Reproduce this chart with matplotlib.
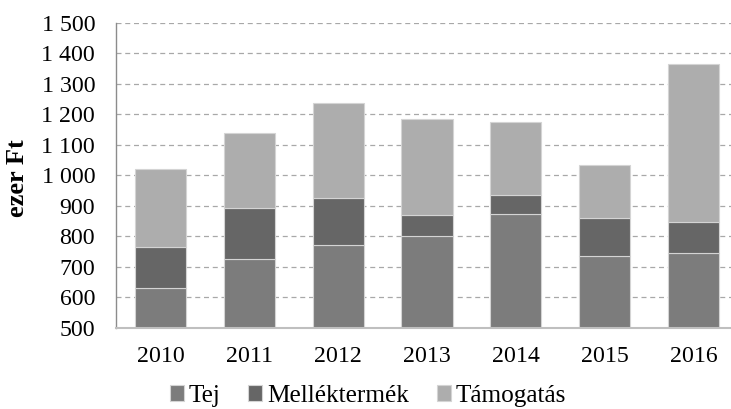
import matplotlib
matplotlib.use("Agg")
import matplotlib.pyplot as plt
from matplotlib.ticker import FuncFormatter, MultipleLocator
import numpy as np

years = ["2010", "2011", "2012", "2013", "2014", "2015", "2016"]
tej = [631, 725, 772, 800, 874, 735, 746]
mellek_top = [765, 893, 925, 868, 934, 859, 846]
total = [1020, 1139, 1238, 1186, 1176, 1034, 1364]

base = 500
tej_h = [t - base for t in tej]
mell_h = [m - t for m, t in zip(mellek_top, tej)]
tam_h = [tt - m for tt, m in zip(total, mellek_top)]

plt.rcParams['font.family'] = ['Liberation Serif', 'DejaVu Serif']
fs = 17.2
fs_leg = 18.2

fig = plt.figure(figsize=(7.31, 4.09), dpi=100)
W, H = 731, 409
left, right, top, bottom = 116, 738, 23, 327.5
ax = fig.add_axes([left / W, 1 - bottom / H, (right - left) / W, (bottom - top) / H])

x = np.arange(len(years))
w = 0.574
ec = '#d4d4d4'
ax.bar(x, tej_h, w, bottom=base, color='#7c7c7c', edgecolor=ec, linewidth=0.8, label='Tej', zorder=3)
ax.bar(x, mell_h, w, bottom=tej, color='#666666', edgecolor=ec, linewidth=0.8, label='Melléktermék', zorder=3)
ax.bar(x, tam_h, w, bottom=mellek_top, color='#adadad', edgecolor=ec, linewidth=0.8, label='Támogatás', zorder=3)

ax.set_xlim(-0.5, 6.5)
ax.set_ylim(500, 1500)
ax.yaxis.set_major_locator(MultipleLocator(100))
ax.yaxis.set_major_formatter(FuncFormatter(lambda v, p: f"{int(v):,}".replace(",", " ")))
ax.set_xticks(x)
ax.set_xticklabels(years)
ax.tick_params(axis='both', length=0, labelsize=fs, colors='black')
ax.tick_params(axis='y', pad=15)
ax.tick_params(axis='x', pad=13)

ax.grid(axis='y', color='#a8a8a8', linestyle=(0, (4, 3)), linewidth=0.9, zorder=0)
for s in ['top', 'right']:
    ax.spines[s].set_visible(False)
ax.spines['left'].set_color('#8c8c8c')
ax.spines['left'].set_linewidth(1.0)
ax.spines['bottom'].set_color('#bfbfbf')
ax.spines['bottom'].set_linewidth(1.5)
ax.spines['bottom'].set_zorder(4)

fig.text(17 / W, 1 - 178 / H, 'ezer Ft', rotation=90, ha='center', va='center',
         fontsize=19, fontweight='bold')

fig.legend(loc='center', bbox_to_anchor=(368 / W, 1 - 396 / H), ncol=3, frameon=False,
           fontsize=fs_leg, handlelength=0.55, handleheight=0.55, handletextpad=0.2,
           columnspacing=1.1, borderaxespad=0, borderpad=0)

fig.savefig('out.png', dpi=100)
